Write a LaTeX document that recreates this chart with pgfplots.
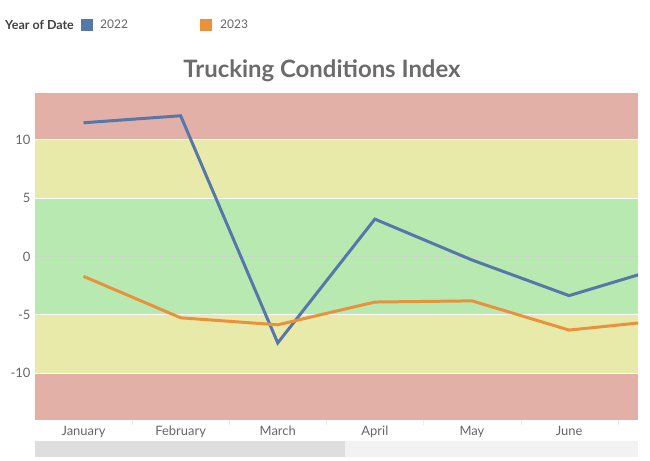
\documentclass[border=0pt]{standalone}
\usepackage{pgfplots}
\pgfplotsset{compat=1.18}
\usepackage{fontspec}
\setmainfont{Lato}
\definecolor{bandred}{HTML}{E3B0A7}
\definecolor{bandyel}{HTML}{E8EAA9}
\definecolor{bandgrn}{HTML}{B8E9B1}
\definecolor{c22}{HTML}{5677A9}
\definecolor{c23}{HTML}{E9913D}
\definecolor{txt}{HTML}{666666}

\begin{document}
\begin{tikzpicture}[x=1bp,y=1bp]
\useasboundingbox (0,0) rectangle (650,461);
% legend
\node[anchor=west, inner sep=0pt, font=\fontsize{12.5}{14}\selectfont\bfseries, text=black!75] at (5,436) {Year of Date};
\fill[c22] (81,430) rectangle (93,442);
\node[anchor=west, inner sep=0pt, font=\fontsize{12}{14}\selectfont, text=txt] at (100,437) {2022};
\fill[c23] (200,430) rectangle (212,442);
\node[anchor=west, inner sep=0pt, font=\fontsize{12}{14}\selectfont, text=txt] at (220,437) {2023};
% title
\node[font=\fontsize{24}{28}\selectfont\bfseries, text=black!58] at (322,390) {Trucking Conditions Index};
% scrollbar
\fill[black!13] (35,4) rectangle (345,20);
\fill[black!5] (345,4) rectangle (638,20);

\begin{axis}[
  at={(35bp,41bp)}, anchor=south west,
  scale only axis,
  width=603bp, height=327bp,
  xmin=-0.5, xmax=5.71,
  ymin=-14, ymax=14,
  axis line style={draw=none},
  tick style={draw=none},
  xtick={0,1,2,3,4,5},
  xticklabels={January,February,March,April,May,June},
  ytick={-10,-5,0,5,10},
  ticklabel style={font=\fontsize{13}{15}\selectfont, text=txt},
  /pgf/number format/assume math mode=true,
  yticklabel style={xshift=-1pt},
  xticklabel style={yshift=-3pt, text height=9.5pt, text depth=2.5pt},
  clip=true,
]
\fill[bandred] (axis cs:-0.5,10) rectangle (axis cs:5.71,14);
\fill[bandyel] (axis cs:-0.5,5) rectangle (axis cs:5.71,10);
\fill[bandgrn] (axis cs:-0.5,-5) rectangle (axis cs:5.71,5);
\fill[bandyel] (axis cs:-0.5,-10) rectangle (axis cs:5.71,-5);
\fill[bandred] (axis cs:-0.5,-14) rectangle (axis cs:5.71,-10);
\draw[white, line width=0.8pt] (axis cs:-0.5,10) -- (axis cs:5.71,10);
\draw[white, line width=0.8pt] (axis cs:-0.5,5) -- (axis cs:5.71,5);
\draw[white, line width=0.8pt] (axis cs:-0.5,-5) -- (axis cs:5.71,-5);
\draw[white, line width=0.8pt] (axis cs:-0.5,-10) -- (axis cs:5.71,-10);
\draw[black!20, dotted, line width=0.5pt] (axis cs:-0.5,0) -- (axis cs:5.71,0);

\addplot[c22, line width=3pt, mark=none] coordinates {
  (0,11.45) (1,12.05) (2,-7.4) (3,3.2) (4,-0.3) (5,-3.35) (6,-0.85)
};
\addplot[c23, line width=3pt, mark=none] coordinates {
  (0,-1.7) (1,-5.25) (2,-5.85) (3,-3.9) (4,-3.8) (5,-6.3) (6,-5.45)
};
\end{axis}
% category separators
\foreach \xx in {132,229,326,423,521,618} \draw[black!7] (\xx,41) -- (\xx,35);
\end{tikzpicture}
\end{document}
